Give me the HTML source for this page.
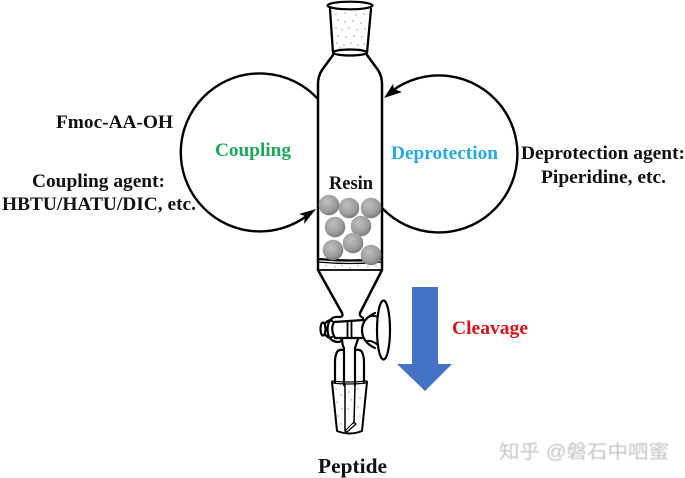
<!DOCTYPE html>
<html>
<head>
<meta charset="utf-8">
<style>
html,body{margin:0;padding:0;background:#fff;width:685px;height:478px;overflow:hidden}
svg{display:block}
text{font-family:"Liberation Serif","Noto Serif CJK SC",serif;font-weight:bold;fill:#111}
.soft{filter:blur(.35px)}
</style>
</head>
<body>
<svg width="685" height="478" viewBox="0 0 685 478" xmlns="http://www.w3.org/2000/svg">
<defs>
<radialGradient id="b" cx="0.4" cy="0.35" r="0.75">
<stop offset="0" stop-color="#c0c0c0"/><stop offset="0.6" stop-color="#9c9c9c"/><stop offset="1" stop-color="#6e6e6e"/>
</radialGradient>
</defs>

<g class="soft">
<!-- cycles -->
<g fill="none" stroke="#000" stroke-width="2.4">
<path d="M318 99 A79 79 0 1 0 308 215"/>
<path d="M382 208 A78.5 78.5 0 1 0 392 91"/>
</g>
<polygon points="316,209 299,214 305,216 304,224" fill="#000"/>
<polygon points="384,98 393,84 394,89 402,92" fill="#000"/>

<!-- stipple -->
<g fill="#999">
<circle cx="336" cy="14" r=".7"/><circle cx="345" cy="13" r=".7"/><circle cx="356" cy="15" r=".7"/><circle cx="364" cy="14" r=".7"/>
<circle cx="338" cy="20" r=".7"/><circle cx="345" cy="22" r=".7"/><circle cx="353" cy="21" r=".7"/><circle cx="361" cy="23" r=".7"/>
<circle cx="336" cy="28" r=".7"/><circle cx="342" cy="30" r=".7"/><circle cx="349" cy="28" r=".7"/><circle cx="357" cy="30" r=".7"/><circle cx="365" cy="29" r=".7"/>
<circle cx="338" cy="36" r=".7"/><circle cx="346" cy="37" r=".7"/><circle cx="354" cy="36" r=".7"/><circle cx="362" cy="37" r=".7"/>
<circle cx="337" cy="43" r=".7"/><circle cx="344" cy="45" r=".7"/><circle cx="351" cy="43" r=".7"/><circle cx="358" cy="45" r=".7"/><circle cx="364" cy="44" r=".7"/>
<circle cx="340" cy="48" r=".7"/><circle cx="349" cy="49" r=".7"/><circle cx="360" cy="49" r=".7"/>
<circle cx="326" cy="266" r=".7"/><circle cx="335" cy="267" r=".7"/><circle cx="342" cy="266" r=".7"/><circle cx="350" cy="268" r=".7"/><circle cx="358" cy="266" r=".7"/><circle cx="368" cy="267" r=".7"/><circle cx="376" cy="266" r=".7"/>
<circle cx="336" cy="389" r=".7"/><circle cx="341" cy="395" r=".7"/><circle cx="337" cy="402" r=".7"/><circle cx="342" cy="409" r=".7"/><circle cx="338" cy="416" r=".7"/><circle cx="341" cy="424" r=".7"/>
<circle cx="349" cy="392" r=".7"/><circle cx="351" cy="400" r=".7"/><circle cx="348" cy="409" r=".7"/><circle cx="358" cy="389" r=".7"/><circle cx="360" cy="398" r=".7"/><circle cx="358" cy="407" r=".7"/><circle cx="360" cy="416" r=".7"/>
</g>

<!-- column -->
<g fill="none" stroke="#000" stroke-linecap="round" stroke-linejoin="round">
<ellipse cx="350" cy="5.5" rx="22.5" ry="3.8" stroke-width="2.2"/>
<path d="M330 9 L333 53 M371 9 L367 53" stroke-width="2.3"/>
<ellipse cx="350" cy="52.5" rx="17" ry="3" stroke-width="2.2"/>
<path d="M333 55 L322 70 Q318 76 318 84 L318 270 L342 313 M367 55 L378 70 Q382 76 382 84 L382 270 L360 313" stroke-width="2.5"/>
<path d="M318 259 Q350 262 382 259" stroke-width="2.2"/>
<path d="M318 262 Q350 265 382 262" stroke-width="1.2"/>
<path d="M319 270 L381 270" stroke-width="1.8"/>
</g>

<!-- beads -->
<g fill="url(#b)">
<circle cx="329" cy="205" r="10.3"/><circle cx="349" cy="208" r="10.3"/><circle cx="371" cy="208" r="10.3"/>
<circle cx="335" cy="227" r="10.3"/><circle cx="361" cy="226" r="10.3"/><circle cx="353" cy="243" r="10.3"/>
<circle cx="333" cy="250" r="10.3"/><circle cx="371" cy="255" r="10.3"/>
</g>

<!-- stopcock -->
<g fill="none" stroke="#000" stroke-linecap="round" stroke-linejoin="round" stroke-width="2.2">
<path d="M342 313 Q344 317 339 317 Q332 316 329 322 M360 313 Q359 316 363 318"/>
<ellipse cx="323" cy="329" rx="2.5" ry="6.5"/>
<path d="M325.500 323 Q329 319 332 321 M325.500 335 Q329 339 332 337"/>
<path d="M329 322 Q326 329 329 337"/>
<path d="M334 322 Q330 329 335 338"/>
<path d="M334 322 Q350 321 364 320 M335 338 Q350 338 364 338"/>
<path d="M347.500 321 V338 M351.500 321 V338" stroke-width="1.8"/>
<path d="M329 337 Q332 342 339 342 Q342 341 342 338"/>
<path d="M375 313 Q362 319 362 330 Q362 342 375 348"/>
<path d="M366 319 Q371 314 378 317 M367 341 Q372 340 378 345" stroke-width="2"/>
<ellipse cx="383.500" cy="330" rx="6.500" ry="29.500" fill="#fff"/>
<path d="M342 338 Q342 345 344 348 V385 M358 339 Q356 345 355 348 V385"/>
<path d="M344 350 Q339 349 337 352 Q335 356 335 362 V382 M355 350 Q360 349 362 352 Q364 356 364 362 V382"/>
<path d="M345 385 V431 M355 385 L354 423" stroke-width="1.500"/>
<path d="M332 383 Q348 385 367 383 M332 381 Q348 383 367 381" stroke-width="1.200"/>
<path d="M332 382 L337 431 Q350 436 362 431 L367 382" stroke-width="2"/>
<path d="M345 431 L354 422 L356 424 L347 432 Z" stroke-width="1.200"/>
</g>

<!-- blue arrow -->
<polygon points="412,287 438,287 438,364 452,364 425,391 397,364 412,364" fill="#4472c4"/>

<!-- labels -->
<text x="56" y="128" font-size="19" textLength="117" lengthAdjust="spacingAndGlyphs">Fmoc-AA-OH</text>
<text x="32" y="187" font-size="19" textLength="133" lengthAdjust="spacingAndGlyphs">Coupling agent:</text>
<text x="2" y="210" font-size="19" textLength="194" lengthAdjust="spacingAndGlyphs">HBTU/HATU/DIC, etc.</text>
<text x="215" y="156" font-size="19" textLength="76" lengthAdjust="spacingAndGlyphs" style="fill:#1fa65a">Coupling</text>
<text x="391" y="159" font-size="19" textLength="107" lengthAdjust="spacingAndGlyphs" style="fill:#29a9dc">Deprotection</text>
<text x="521" y="159" font-size="19" textLength="164" lengthAdjust="spacingAndGlyphs">Deprotection agent:</text>
<text x="541" y="183" font-size="19" textLength="125" lengthAdjust="spacingAndGlyphs">Piperidine, etc.</text>
<text x="329" y="189" font-size="19" textLength="44" lengthAdjust="spacingAndGlyphs">Resin</text>
<text x="452" y="334" font-size="19" textLength="76" lengthAdjust="spacingAndGlyphs" style="fill:#d8131c">Cleavage</text>
<text x="318" y="473" font-size="21" textLength="69" lengthAdjust="spacingAndGlyphs">Peptide</text>
</g>

<!-- watermark -->
<text x="499" y="458" font-size="19" textLength="170" lengthAdjust="spacingAndGlyphs" style="font-family:'Liberation Sans','Noto Sans CJK SC',sans-serif;font-weight:normal;fill:#c4c4c4;filter:blur(.5px)">知乎 @磐石中呬蜜</text>
</svg>
</body>
</html>
